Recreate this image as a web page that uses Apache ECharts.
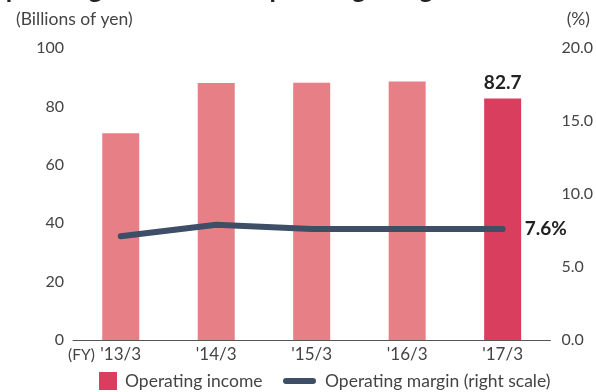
<!DOCTYPE html>
<html>
<head>
<meta charset="utf-8">
<script src="https://cdn.jsdelivr.net/npm/echarts@6/dist/echarts.min.js"></script>
<style>
  html, body { margin: 0; padding: 0; background: #fff; }
  #chart { width: 596px; height: 392px; }
</style>
</head>
<body>
<div id="chart"></div>
<script>
// Fiscal years and values
const categories = ["'13/3", "'14/3", "'15/3", "'16/3", "'17/3"];
const operatingIncome = [70.8, 88.0, 88.1, 88.5, 82.7];   // billions of yen
const operatingMargin = [7.1, 7.9, 7.6, 7.6, 7.6];        // %
const leftTicks = { min: 0, max: 100, interval: 20 };
const rightTicks = { min: 0, max: 20, interval: 5 };

const FONT = 'Lato, "Open Sans", sans-serif';
const BAR_LIGHT = '#E68086';
const BAR_DARK = '#D93E5E';
const LINE_COLOR = '#3D4E66';
const TEXT = '#444';

const last = categories.length - 1;

const barData = operatingIncome.map((v, i) => i === last ? {
  value: v,
  itemStyle: { color: BAR_DARK },
  label: {
    show: true, position: 'top', distance: 6,
    fontFamily: FONT, fontWeight: 'bold', fontSize: 19, color: '#222'
  }
} : { value: v });

const lineData = operatingMargin.map((v, i) => i === last ? {
  value: v,
  label: {
    show: true, position: 'right', distance: 22,
    formatter: '{c}%',
    fontFamily: FONT, fontWeight: 'bold', fontSize: 19, color: '#222'
  }
} : { value: v });

// helper for free-standing text
const txt = (text, x, y, align, size) => ({
  type: 'text',
  style: {
    x, y, text, align: align, verticalAlign: 'middle',
    fontFamily: FONT, fontSize: size, fill: TEXT
  }
});

const chart = echarts.init(document.getElementById('chart'), null, { renderer: 'canvas' });

chart.setOption({
  animation: false,
  textStyle: { fontFamily: FONT },
  grid: { left: 73, right: 42, top: 48, bottom: 52, containLabel: false },
  xAxis: {
    type: 'category',
    data: categories,
    axisLine: { lineStyle: { color: '#555', width: 1 } },
    axisTick: { show: false },
    axisLabel: { color: TEXT, fontSize: 17, margin: 6, fontFamily: FONT }
  },
  yAxis: [
    {
      type: 'value',
      min: leftTicks.min, max: leftTicks.max, interval: leftTicks.interval,
      axisLine: { show: false }, axisTick: { show: false }, splitLine: { show: false },
      axisLabel: { color: TEXT, fontSize: 16, margin: 9, fontFamily: FONT }
    },
    {
      type: 'value',
      min: rightTicks.min, max: rightTicks.max, interval: rightTicks.interval,
      axisLine: { show: false }, axisTick: { show: false }, splitLine: { show: false },
      axisLabel: {
        color: TEXT, fontSize: 16, margin: 11, fontFamily: FONT,
        formatter: v => v.toFixed(1)
      }
    }
  ],
  series: [
    {
      name: 'Operating income',
      type: 'bar',
      yAxisIndex: 0,
      data: barData,
      barWidth: 37,
      itemStyle: { color: BAR_LIGHT },
      z: 2
    },
    {
      name: 'Operating margin (right scale)',
      type: 'line',
      yAxisIndex: 1,
      data: lineData,
      symbol: 'circle',
      symbolSize: 0.1,
      showSymbol: true,
      itemStyle: { color: LINE_COLOR },
      lineStyle: { color: LINE_COLOR, width: 6, cap: 'round', join: 'round' },
      z: 5
    }
  ],
  graphic: [
    // heading above the chart area
    {
      type: 'text', left: -15, top: -23,
      style: {
        text: 'Operating Income and Operating Margin',
        fontFamily: FONT, fontSize: 26, fontWeight: 'bold', fill: '#222'
      }
    },
    txt('(Billions of yen)', 16, 19, 'left', 17.5),
    txt('(%)', 590, 19, 'right', 17.5),
    txt('(FY)', 68, 355, 'left', 15.5),
    // legend
    {
      type: 'rect', shape: { x: 99, y: 372, width: 18, height: 18 },
      style: { fill: BAR_DARK }
    },
    txt('Operating income', 125, 381, 'left', 17.5),
    {
      type: 'line', shape: { x1: 286, y1: 381, x2: 313, y2: 381 },
      style: { stroke: LINE_COLOR, lineWidth: 6, lineCap: 'round' }
    },
    txt('Operating margin (right scale)', 325, 381, 'left', 17.5)
  ]
});
</script>
</body>
</html>
